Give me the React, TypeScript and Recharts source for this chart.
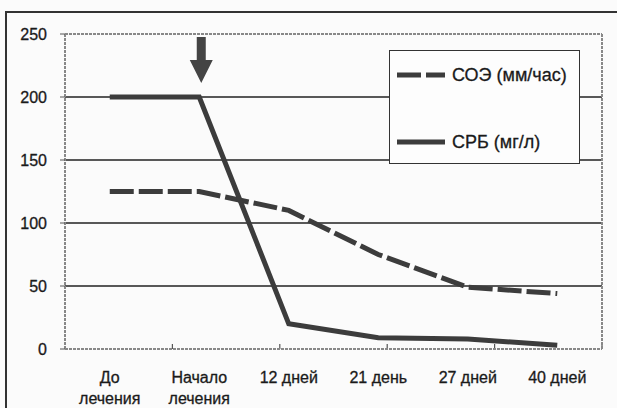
import React from "react";
import {
  LineChart,
  Line,
  XAxis,
  YAxis,
  ReferenceLine,
  ReferenceDot,
} from "recharts";

// Time points of observation (two-line labels split by "\n")
const categories = [
  "До\nлечения",
  "Начало\nлечения",
  "12 дней",
  "21 день",
  "27 дней",
  "40 дней",
];

// СОЭ, мм/час
const esrValues = [125, 125, 110, 75, 49, 44];
// СРБ, мг/л
const crpValues = [200, 200, 20, 9, 8, 3];

const yTicks = [0, 50, 100, 150, 200, 250];

// Category boundaries where the small inner tick marks sit
const bandEdges = [1, 2, 3, 4, 5];
const edgeTickValue = 4;

const esrName = "СОЭ (мм/час)";
const crpName = "СРБ (мг/л)";

const data = categories.map((c, i) => ({
  name: c,
  esr: esrValues[i],
  crp: crpValues[i],
}));

const FONT = "'Liberation Sans', Arial, sans-serif";
const INK = "#3c3c3c";
const TEXT = "#1a1a1a";

const XTick = (props: any) => {
  const { x, y, payload } = props;
  const lines = String(payload.value).split("\n");
  return (
    <g>
      {lines.map((ln, i) => (
        <text
          key={i}
          x={x}
          y={y + 26 + i * 21}
          textAnchor="middle"
          fontSize={16}
          fontFamily={FONT}
          fill={TEXT}
          stroke={TEXT}
          strokeWidth={0.3}
        >
          {ln}
        </text>
      ))}
    </g>
  );
};

// Arrow marking the start of treatment
const StartArrow = (props: any) => {
  const { cx, cy } = props;
  const x = cx + 2;
  const top = cy + 3;
  const d = `M${x - 4.5},${top} L${x + 4.5},${top} L${x + 4.5},${top + 23} L${x + 11.5},${top + 23} L${x},${top + 46} L${x - 11.5},${top + 23} L${x - 4.5},${top + 23} Z`;
  return <path d={d} fill="#444" />;
};

const LegendBox = () => (
  <div
    style={{
      position: "absolute",
      left: 389,
      top: 50,
      width: 191,
      height: 114,
      boxSizing: "border-box",
      border: "1.5px solid #333",
      background: "#fdfdfd",
    }}
  >
    <svg
      width={191}
      height={114}
      style={{ position: "absolute", left: -1.5, top: -1.5 }}
    >
      <line
        x1={8}
        x2={56}
        y1={25}
        y2={25}
        stroke={INK}
        strokeWidth={5}
        strokeDasharray="24 5"
      />
      <line x1={8} x2={56} y1={92} y2={92} stroke={INK} strokeWidth={5} />
      <text
        x={63}
        y={31}
        fontSize={18}
        fontFamily={FONT}
        fill={TEXT}
        stroke={TEXT}
        strokeWidth={0.3}
      >
        {esrName}
      </text>
      <text
        x={63}
        y={98}
        fontSize={18}
        fontFamily={FONT}
        fill={TEXT}
        stroke={TEXT}
        strokeWidth={0.3}
      >
        {crpName}
      </text>
    </svg>
  </div>
);

export default function App() {
  return (
    <div
      style={{
        position: "absolute",
        left: 0,
        top: 0,
        width: 617,
        height: 408,
        background: "#fbfbfb",
        overflow: "hidden",
      }}
    >
      <div
        style={{
          position: "absolute",
          left: 5,
          top: 11,
          width: 640,
          height: 420,
          borderTop: "2px solid #333",
          borderLeft: "2px solid #333",
        }}
      />
      <LineChart
        width={617}
        height={408}
        data={data}
        margin={{ top: 34, right: 0, left: 0, bottom: 0 }}
        style={{ position: "absolute", left: 0, top: 0 }}
      >
        <XAxis
          dataKey="name"
          scale="band"
          height={59}
          tick={<XTick />}
          tickLine={false}
          axisLine={{ stroke: "#888", strokeWidth: 2, strokeDasharray: "3 1" }}
          interval={0}
        />
        <XAxis
          xAxisId="edges"
          type="number"
          domain={[0, categories.length]}
          hide
        />
        <YAxis
          yAxisId="left"
          width={65}
          domain={[0, 250]}
          ticks={yTicks}
          tickSize={5}
          tickMargin={13}
          tick={{
            fontSize: 16,
            fontFamily: FONT,
            fill: TEXT,
            stroke: TEXT,
            strokeWidth: 0.3,
          }}
          tickLine={{ stroke: "#555" }}
          axisLine={{ stroke: "#888", strokeWidth: 2, strokeDasharray: "3 1" }}
          interval={0}
        />
        <YAxis
          yAxisId="right"
          orientation="right"
          width={15}
          domain={[0, 250]}
          tick={false}
          tickLine={false}
          axisLine={{ stroke: "#888", strokeWidth: 2, strokeDasharray: "3 1" }}
        />
        {yTicks
          .filter((v) => v > 0)
          .map((v) => (
            <ReferenceLine
              key={v}
              yAxisId="left"
              y={v}
              stroke={v === 250 ? "#888" : "#222"}
              strokeWidth={v === 250 ? 2 : 1.4}
              strokeDasharray={v === 250 ? "3 1" : undefined}
            />
          ))}
        {bandEdges.map((e) => (
          <ReferenceLine
            key={`edge-${e}`}
            xAxisId="edges"
            yAxisId="left"
            segment={[
              { x: e, y: 0 },
              { x: e, y: edgeTickValue },
            ]}
            stroke="#555"
            strokeWidth={1.2}
          />
        ))}
        <Line
          yAxisId="left"
          dataKey="esr"
          name={esrName}
          stroke={INK}
          strokeWidth={5}
          strokeDasharray="24 5"
          dot={false}
          isAnimationActive={false}
        />
        <Line
          yAxisId="left"
          dataKey="crp"
          name={crpName}
          stroke={INK}
          strokeWidth={5}
          dot={false}
          isAnimationActive={false}
        />
        <ReferenceDot
          yAxisId="left"
          x={categories[1]}
          y={250}
          r={0}
          shape={<StartArrow />}
        />
      </LineChart>
      <LegendBox />
    </div>
  );
}
